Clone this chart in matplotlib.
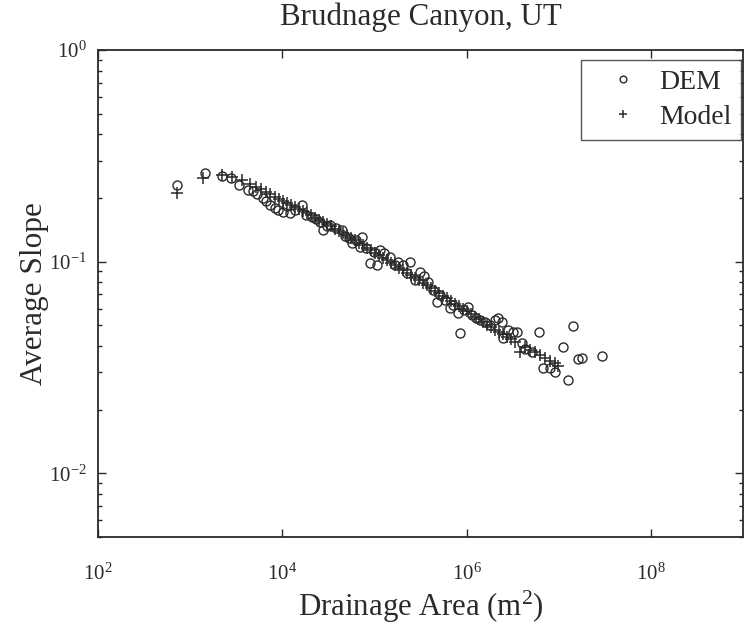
import matplotlib
matplotlib.use('Agg')
import matplotlib.pyplot as plt
from matplotlib.ticker import FixedLocator, NullLocator, LogLocator, FixedFormatter, NullFormatter

plt.rcParams['font.family'] = ['Liberation Serif', 'DejaVu Serif']
plt.rcParams['mathtext.fontset'] = 'custom'
plt.rcParams['mathtext.rm'] = 'Liberation Serif'
plt.rcParams['mathtext.it'] = 'Liberation Serif:italic'
plt.rcParams['mathtext.bf'] = 'Liberation Serif:bold'

# ---- data ----
dem_area = [720, 1450, 2220, 2770, 3390, 4250, 4810, 5320, 6180, 6650,
            7360, 8340, 8990, 1.02e4, 1.12e4, 1.21e4, 1.37e4, 1.64e4, 1.81e4, 2.10e4,
            2.32e4, 2.56e4, 2.77e4, 3.05e4, 3.30e4, 3.83e4, 4.45e4, 4.80e4, 5.30e4, 5.71e4,
            6.31e4, 6.97e4, 7.33e4, 8.11e4, 8.95e4, 9.89e4, 1.07e5, 1.15e5, 1.27e5, 1.48e5,
            1.67e5, 1.80e5, 2.04e5, 2.26e5, 2.43e5, 2.75e5, 3.13e5, 3.45e5, 3.81e5, 4.32e5,
            4.78e5, 5.15e5, 5.83e5, 6.61e5, 7.13e5, 8.07e5, 8.49e5, 9.38e5, 1.04e6, 1.15e6,
            1.26e6, 1.40e6, 1.58e6, 1.80e6, 2.04e6, 2.19e6, 2.43e6, 2.48e6, 2.82e6, 3.19e6,
            3.52e6, 4.00e6, 4.31e6, 5.13e6, 6.11e6, 6.76e6, 8.05e6, 9.12e6, 1.11e7, 1.26e7,
            1.43e7, 1.62e7, 1.79e7, 2.95e7]
dem_slope = [0.230, 0.262, 0.254, 0.248, 0.230, 0.218, 0.216, 0.209, 0.200, 0.193,
             0.185, 0.179, 0.175, 0.172, 0.183, 0.170, 0.175, 0.185, 0.166, 0.163,
             0.159, 0.154, 0.141, 0.147, 0.149, 0.144, 0.141, 0.132, 0.129, 0.122,
             0.126, 0.117, 0.131, 0.116, 0.0985, 0.111, 0.0964, 0.1135, 0.110, 0.105,
             0.0964, 0.0996, 0.0964, 0.0883, 0.0996, 0.0818, 0.0893, 0.0855, 0.0801, 0.0734,
             0.0644, 0.0695, 0.0659, 0.0604, 0.0624, 0.0571, 0.0460, 0.0590, 0.0610, 0.0560,
             0.0541, 0.0530, 0.0518, 0.0501, 0.0530, 0.0541, 0.0518, 0.0435, 0.0475, 0.0465,
             0.0465, 0.0412, 0.0386, 0.0374, 0.0465, 0.0314, 0.0314, 0.0301, 0.0395, 0.0276,
             0.0496, 0.0347, 0.0350, 0.0358]

model_area = [720, 1380, 2220, 2850, 3660, 4460, 5190, 5870, 6650, 7360,
              8340, 9210, 1.02e4, 1.12e4, 1.24e4, 1.37e4, 1.52e4, 1.68e4, 1.85e4, 2.05e4,
              2.26e4, 2.50e4, 2.77e4, 3.05e4, 3.38e4, 3.73e4, 4.13e4, 4.56e4, 5.04e4, 5.57e4,
              6.15e4, 6.81e4, 7.52e4, 8.30e4, 9.19e4, 1.01e5, 1.12e5, 1.24e5, 1.37e5, 1.51e5,
              1.67e5, 1.85e5, 2.04e5, 2.26e5, 2.49e5, 2.75e5, 3.05e5, 3.37e5, 3.72e5, 4.11e5,
              4.54e5, 5.02e5, 5.55e5, 6.14e5, 6.78e5, 7.50e5, 8.28e5, 9.15e5, 1.01e6, 1.12e6,
              1.24e6, 1.36e6, 1.51e6, 1.67e6, 1.84e6, 2.04e6, 2.25e6, 2.48e6, 2.75e6, 3.03e6,
              3.36e6, 3.80e6, 4.31e6, 4.88e6, 5.53e6, 6.26e6, 7.10e6, 8.05e6, 9.12e6, 9.82e6]
model_slope = [0.211, 0.248, 0.257, 0.251, 0.243, 0.233, 0.225, 0.220, 0.213, 0.209,
               0.202, 0.198, 0.193, 0.189, 0.185, 0.181, 0.177, 0.173, 0.170, 0.166,
               0.161, 0.157, 0.154, 0.151, 0.147, 0.143, 0.140, 0.137, 0.132, 0.129,
               0.126, 0.122, 0.120, 0.116, 0.1135, 0.110, 0.107, 0.104, 0.102, 0.0985,
               0.0964, 0.0933, 0.0913, 0.0883, 0.0865, 0.0836, 0.0818, 0.0792, 0.0775, 0.0750,
               0.0726, 0.0710, 0.0688, 0.0675, 0.0652, 0.0631, 0.0617, 0.0597, 0.0584, 0.0565,
               0.0547, 0.0535, 0.0518, 0.0501, 0.0491, 0.0475, 0.0465, 0.0455, 0.0440, 0.0431,
               0.0417, 0.0374, 0.0395, 0.0382, 0.0374, 0.0362, 0.0350, 0.0339, 0.0332, 0.0321]

x_ticks = [1e2, 1e4, 1e6, 1e8]
x_tick_labels = ['$10^{2}$', '$10^{4}$', '$10^{6}$', '$10^{8}$']
y_ticks = [1e-2, 1e-1, 1e0]
y_tick_labels = ['$10^{-2}$', '$10^{-1}$', '$10^{0}$']

title = 'Brudnage Canyon, UT'
x_label = 'Drainage Area (m$^{2}$)'
y_label = 'Average Slope'

ink = '#2a2a2a'

fig = plt.figure(figsize=(7.44, 6.35), dpi=100)
fig.patch.set_facecolor('white')
ax = fig.add_axes([98 / 744, 1 - 537 / 635, 645 / 744, 487 / 635])

ax.loglog(dem_area, dem_slope, linestyle='none', marker='o', mfc='none',
          mec=ink, ms=6.5, mew=1.0, label='DEM')
ax.loglog(model_area, model_slope, linestyle='none', marker='+', color=ink,
          ms=8, mew=1.1, label='Model')

ax.set_xlim(1e2, 1e9)
ax.set_ylim(5e-3, 1e0)

ax.xaxis.set_major_locator(FixedLocator(x_ticks))
ax.xaxis.set_major_formatter(FixedFormatter(x_tick_labels))
ax.xaxis.set_minor_locator(NullLocator())
ax.yaxis.set_major_locator(FixedLocator(y_ticks))
ax.yaxis.set_major_formatter(FixedFormatter(y_tick_labels))
ax.yaxis.set_minor_locator(LogLocator(base=10, subs=[2, 3, 4, 5, 6, 7, 8, 9], numticks=20))
ax.yaxis.set_minor_formatter(NullFormatter())

ax.tick_params(which='both', direction='in', top=True, right=True, color=ink,
               labelcolor=ink, labelsize=15)
ax.tick_params(which='major', length=6, width=1.0)
ax.tick_params(which='minor', length=3, width=1.0)
ax.tick_params(axis='x', pad=19)
ax.tick_params(axis='y', pad=8)
for sp in ax.spines.values():
    sp.set_color(ink)
    sp.set_linewidth(1.3)

ax.set_title(title, fontsize=22.3, color=ink, pad=18)
ax.set_xlabel(x_label, fontsize=22.2, color=ink, labelpad=3)
ax.set_ylabel(y_label, fontsize=22.5, color=ink)
ax.yaxis.set_label_coords(-0.076, 0.5)

leg = ax.legend(loc='upper right', bbox_to_anchor=(0.9969, 0.9795), fontsize=20,
                frameon=True, fancybox=False, edgecolor=ink, borderpad=0.35,
                handlelength=2.3, handletextpad=0.15, labelspacing=0.34,
                borderaxespad=0.0, markerscale=0.75)
leg.get_frame().set_linewidth(1.0)
for t in leg.get_texts():
    t.set_color(ink)

fig.savefig('out.png', dpi=100, facecolor='white')
